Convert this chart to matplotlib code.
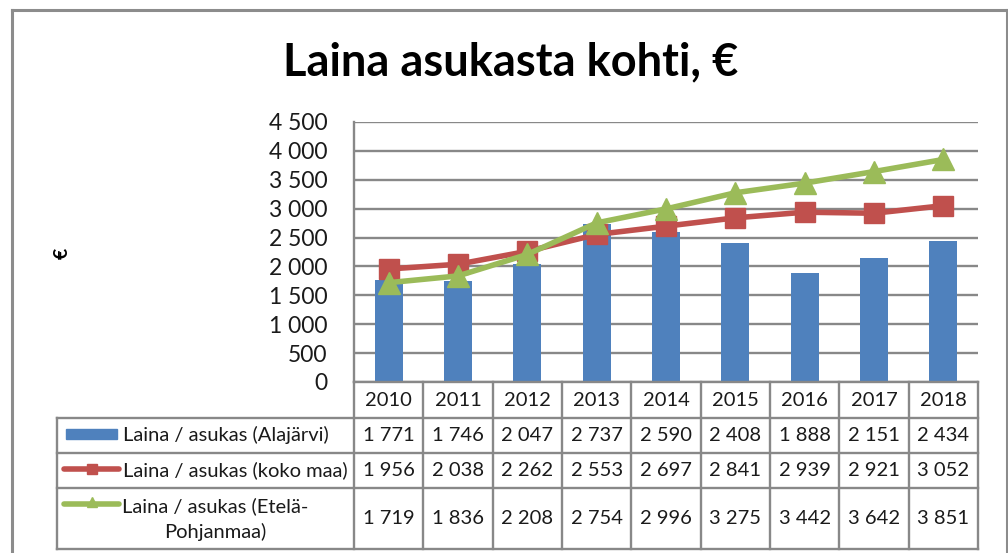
import numpy as np
import matplotlib
matplotlib.use("Agg")
import matplotlib.pyplot as plt
from matplotlib.lines import Line2D
from matplotlib.patches import Rectangle

plt.rcParams['font.family'] = ['Lato', 'DejaVu Sans']

years = [2010, 2011, 2012, 2013, 2014, 2015, 2016, 2017, 2018]
alajarvi = [1771, 1746, 2047, 2737, 2590, 2408, 1888, 2151, 2434]
koko_maa = [1956, 2038, 2262, 2553, 2697, 2841, 2939, 2921, 3052]
etela_pohjanmaa = [1719, 1836, 2208, 2754, 2996, 3275, 3442, 3642, 3851]
series_names = ["Laina / asukas (Alajärvi)", "Laina / asukas (koko maa)",
                "Laina / asukas (Etelä-\nPohjanmaa)"]
yticks = [0, 500, 1000, 1500, 2000, 2500, 3000, 3500, 4000, 4500]

blue = '#4F81BD'
red = '#C0504D'
green = '#9BBB59'
grid = '#888888'
txt = '#1a1a1a'

W, H = 1008, 553
fig = plt.figure(figsize=(W / 100, H / 100), dpi=100)

def fx(px):
    return px / W

def fy(py):
    return 1 - py / H

def fmt(v):
    return f"{v:,}".replace(",", " ")

# plot area
x0, x1, ytop, ybot = 354, 978, 122, 382
ax = fig.add_axes([fx(x0), fy(ybot), fx(x1 - x0), (ybot - ytop) / H])
x = np.arange(len(years))
ax.bar(x, alajarvi, width=0.4, color=blue, zorder=2)
ax.plot(x, koko_maa, color=red, lw=4, marker='s', ms=15, zorder=3)
ax.plot(x, etela_pohjanmaa, color=green, lw=4, marker='^', ms=16, zorder=4)
ax.set_xlim(-0.5, len(years) - 0.5)
ax.set_ylim(0, 4500)
ax.set_yticks(yticks)
ax.set_yticklabels([fmt(v) for v in yticks], fontsize=16.5, color=txt)
ax.set_xticks([])
ax.yaxis.grid(True, color=grid, lw=1.7, zorder=0)
ax.set_axisbelow(True)
for s in ['top', 'right']:
    ax.spines[s].set_visible(False)
for s in ['left', 'bottom']:
    ax.spines[s].set_color(grid)
    ax.spines[s].set_linewidth(1.7)
ax.tick_params(axis='y', length=0, pad=19)

# overlay for table, title and border
ov = fig.add_axes([0, 0, 1, 1])
ov.set_xlim(0, W)
ov.set_ylim(H, 0)
ov.axis('off')

ov.text(511, 62, "Laina asukasta kohti, €", fontsize=32.5, fontweight='bold',
        ha='center', va='center', color='black')
ov.text(62, 253, "€", fontsize=14, fontweight='bold', rotation=90,
        ha='center', va='center', color='black')

# outer border
for xs, ys in [([12, 12], [10, H + 5]), ([12, 1007], [10, 10]), ([1007, 1007], [10, H + 5])]:
    ov.add_line(Line2D(xs, ys, color='#8c8c8c', lw=2.2))

# table
tl = 57
rows = [382, 418, 453, 488, 549]
colw = (x1 - x0) / len(years)
lc = dict(color=grid, lw=1.7)
for r in rows[1:]:
    ov.add_line(Line2D([tl, x1], [r, r], **lc))
ov.add_line(Line2D([tl, tl], [rows[1], rows[-1]], **lc))
for i in range(len(years) + 1):
    ov.add_line(Line2D([x0 + i * colw, x0 + i * colw], [rows[0], rows[-1]], **lc))

fs = 14.5
for i, yr in enumerate(years):
    cx = x0 + (i + 0.5) * colw
    ov.text(cx, (rows[0] + rows[1]) / 2, str(yr), fontsize=fs, ha='center',
            va='center', color=txt)
    for j, data in enumerate([alajarvi, koko_maa, etela_pohjanmaa]):
        ov.text(cx, (rows[j + 1] + rows[j + 2]) / 2, fmt(data[i]), fontsize=fs,
                ha='center', va='center', color=txt)

# legend keys and labels
ov.add_patch(Rectangle((66, 429), 51, 10, color=blue))
ov.add_line(Line2D([64, 119], [469, 469], color=red, lw=4, solid_capstyle='round'))
ov.plot([91.5], [469], marker='s', color=red, ms=7)
ov.add_line(Line2D([64, 119], [504, 504], color=green, lw=4, solid_capstyle='round'))
ov.plot([91.5], [502], marker='^', color=green, ms=7)

ov.text(123, 435, series_names[0], fontsize=fs, ha='left', va='center', color=txt)
ov.text(123, 470, series_names[1], fontsize=fs, ha='left', va='center', color=txt)
ov.text(215, 519, series_names[2], fontsize=fs, ha='center', va='center',
        multialignment='center', linespacing=1.55, color=txt)

fig.savefig("out.png", dpi=100)
